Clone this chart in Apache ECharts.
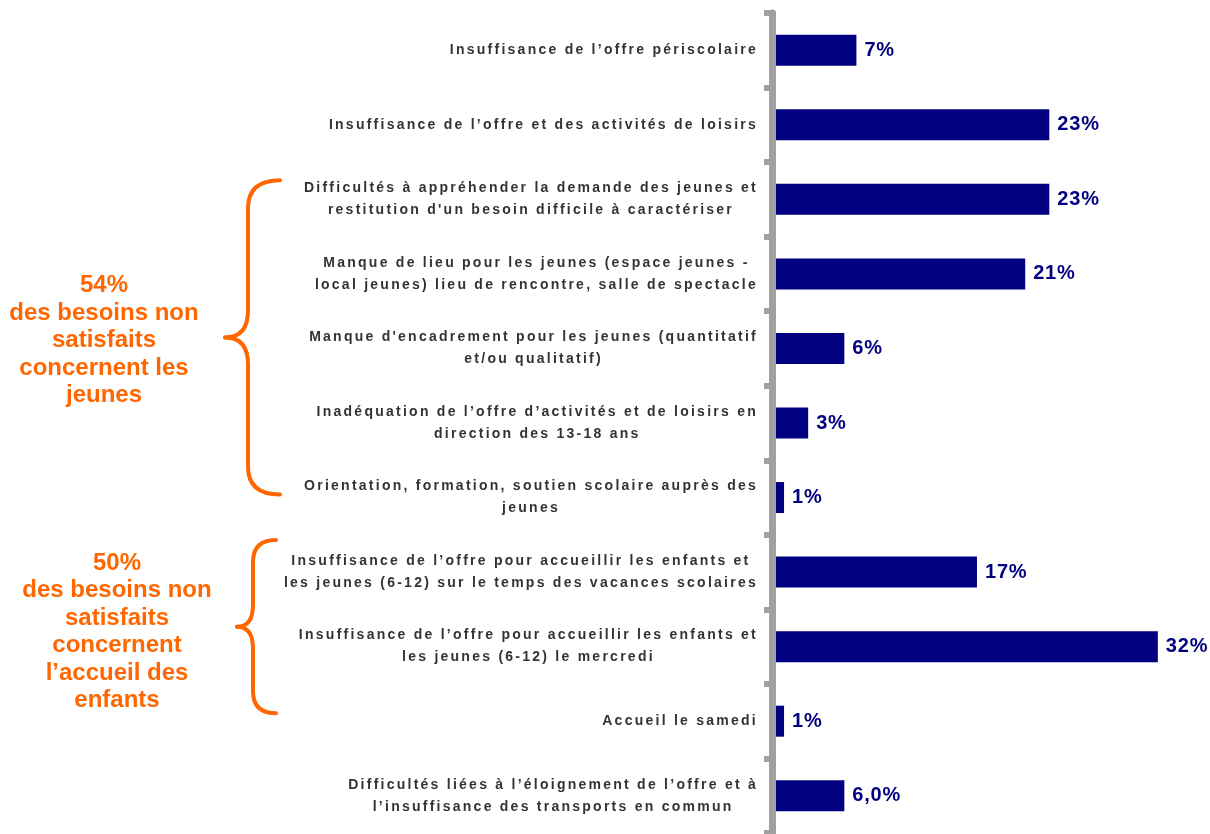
<!DOCTYPE html>
<html>
<head>
<meta charset="utf-8">
<script src="https://cdn.jsdelivr.net/npm/echarts@6/dist/echarts.min.js"></script>
<style>
  html, body { margin: 0; padding: 0; background: #fff; }
  #chart { width: 1210px; height: 834px; }
</style>
</head>
<body>
<div id="chart"></div>
<script>
// Besoins non satisfaits (% of responses)
const categories = [
  "Insuffisance de l’offre périscolaire",
  "Insuffisance de l’offre et des activités de loisirs",
  "Difficultés à appréhender la demande des jeunes et\nrestitution d'un besoin difficile à caractériser",
  "Manque de lieu pour les jeunes (espace jeunes -\nlocal jeunes) lieu de rencontre, salle de spectacle",
  "Manque d'encadrement pour les jeunes (quantitatif\net/ou qualitatif)",
  "Inadéquation de l’offre d’activités et de loisirs en\ndirection des 13-18 ans",
  "Orientation, formation, soutien scolaire auprès des\njeunes",
  "Insuffisance de l’offre pour accueillir les enfants et\nles jeunes (6-12) sur le temps des vacances scolaires",
  "Insuffisance de l’offre pour accueillir les enfants et\nles jeunes (6-12) le mercredi",
  "Accueil le samedi",
  "Difficultés liées à l’éloignement de l’offre et à\nl’insuffisance des transports en commun"
];
const values = [7, 23, 23, 21, 6, 3, 1, 17, 32, 1, 6];
const decimals = [0, 0, 0, 0, 0, 0, 0, 0, 0, 0, 1];

// Groups of categories summarised on the left (first index, last index, caption)
const youthGroup = [2, 6];
const youthCaption = "des besoins non\nsatisfaits\nconcernent les\njeunes";
const childGroup = [7, 9];
const childCaption = "des besoins non\nsatisfaits\nconcernent\nl’accueil des\nenfants";

const NAVY = '#000080';
const ORANGE = '#FF6600';
const AXIS_GREY = '#a0a0a0';

// Spaced-out lettering: category labels (14px) and value labels (20px)
(function () {
  const proto = CanvasRenderingContext2D.prototype;
  if (!('letterSpacing' in proto)) return;
  const origMeasure = proto.measureText;
  const origFill = proto.fillText;
  const apply = ctx => {
    const f = ctx.font;
    ctx.letterSpacing = /(^|\s)14px/.test(f) ? '2.25px' : /(^|\s)20px/.test(f) ? '0.8px' : '0px';
  };
  proto.measureText = function (t) { apply(this); return origMeasure.call(this, t); };
  proto.fillText = function (t, x, y, m) {
    apply(this);
    return m === undefined ? origFill.call(this, t, x, y) : origFill.call(this, t, x, y, m);
  };
})();

function fmtPct(v, d) {
  return v.toFixed(d).replace('.', ',') + '%';
}

const chart = echarts.init(document.getElementById('chart'), null, { renderer: 'canvas' });

chart.setOption({
  animation: false,
  backgroundColor: '#fff',
  grid: { left: 772, right: 16, top: 13, bottom: 1, containLabel: false, outerBoundsMode: 'none' },
  xAxis: { type: 'value', min: 0, max: 35, show: false },
  yAxis: {
    type: 'category',
    inverse: true,
    data: categories,
    z: 10,
    axisLine: { show: true, lineStyle: { color: AXIS_GREY, width: 7 } },
    axisTick: { show: true, length: 8, lineStyle: { color: AXIS_GREY, width: 6 } },
    splitLine: { show: false },
    axisLabel: {
      interval: 0,
      margin: 14,
      align: 'right',
      formatter: v => v.split('\n').map(l => '{c|' + l + '}').join('\n'),
      rich: {
        c: {
          align: 'center',
          fontFamily: 'Arial, "Liberation Sans", sans-serif',
          fontWeight: 'bold',
          fontSize: 14,
          lineHeight: 22,
          color: '#333'
        }
      }
    }
  },
  series: [{
    type: 'bar',
    data: values,
    barWidth: 31,
    itemStyle: { color: NAVY },
    silent: true,
    label: {
      show: true,
      position: 'right',
      distance: 8,
      color: NAVY,
      fontFamily: 'Arial, "Liberation Sans", sans-serif',
      fontWeight: 'bold',
      fontSize: 20,
      formatter: p => fmtPct(p.value, decimals[p.dataIndex])
    }
  }]
});

// Curly braces and captions, placed from the category positions
function yOf(i) { return chart.convertToPixel({ yAxisIndex: 0 }, i); }
function sum(a, b) { let s = 0; for (let i = a; i <= b; i++) s += values[i]; return s; }

function brace(xEnd, xLine, xTip, top, bottom, r, rt) {
  const mid = (top + bottom) / 2;
  const st = { fill: 'none', stroke: ORANGE, lineWidth: 4, lineCap: 'round' };
  const curve = (x1, y1, cx, cy, x2, y2) => ({
    type: 'bezierCurve', silent: true,
    shape: { x1: x1, y1: y1, cpx1: cx, cpy1: cy, x2: x2, y2: y2 }, style: st
  });
  const line = (y1, y2) => ({
    type: 'line', silent: true,
    shape: { x1: xLine, y1: y1, x2: xLine, y2: y2 }, style: st
  });
  return {
    type: 'group',
    children: [
      curve(xEnd, top, xLine, top, xLine, top + r),
      line(top + r, mid - rt),
      curve(xLine, mid - rt, xLine, mid, xTip, mid),
      curve(xTip, mid, xLine, mid, xLine, mid + rt),
      line(mid + rt, bottom - r),
      curve(xLine, bottom - r, xLine, bottom, xEnd, bottom)
    ]
  };
}

const b1Top = yOf(youthGroup[0]) - 19, b1Bot = yOf(youthGroup[1]) - 3;
const b2Top = yOf(childGroup[0]) - 32, b2Bot = yOf(childGroup[1]) - 8;

const captionStyle = {
  fill: ORANGE,
  font: 'bold 24px Arial, "Liberation Sans", sans-serif',
  align: 'center',
  verticalAlign: 'middle',
  lineHeight: 27.5
};

chart.setOption({
  graphic: [
    brace(280, 248, 225, b1Top, b1Bot, 28, 27),
    brace(276, 253, 237, b2Top, b2Bot, 22, 22),
    {
      type: 'text', silent: true, x: 104, y: (b1Top + b1Bot) / 2 + 3,
      style: Object.assign({ text: sum(youthGroup[0], youthGroup[1]) + '%\n' + youthCaption }, captionStyle)
    },
    {
      type: 'text', silent: true, x: 117, y: (b2Top + b2Bot) / 2 + 5,
      style: Object.assign({ text: sum(childGroup[0], childGroup[1]) + '%\n' + childCaption }, captionStyle)
    }
  ]
});
</script>
</body>
</html>
